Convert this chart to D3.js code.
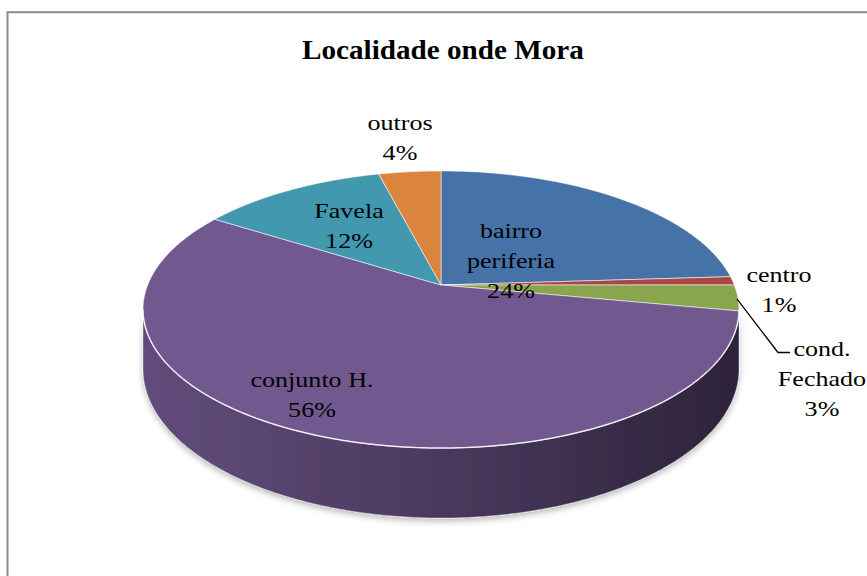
<!DOCTYPE html>
<html>
<head>
<meta charset="utf-8">
<script src="https://cdn.jsdelivr.net/npm/d3@7"></script>
<style>
  html, body { margin: 0; padding: 0; background: #fff; }
  svg { display: block; }
</style>
</head>
<body>
<div id="container"></div>
<script>
/* CONSTANTS AND GLOBALS */
const width = 867,
  height = 576;
const FONT = '"Liberation Serif"';

// DATA
const title = "Localidade onde Mora";
const categories = ["bairro periferia", "centro", "cond. Fechado", "conjunto H.", "Favela", "outros"];
const values = [24, 1, 3, 56, 12, 4];
const labelNames = [["bairro", "periferia"], ["centro"], ["cond.", "Fechado"], ["conjunto H."], ["Favela"], ["outros"]];
const colors = ["#4572A7", "#AA4643", "#89A54E", "#71588F", "#4198AF", "#DB843D"];

// label layout (first baseline of each label block)
const labelPos = [[511, 237.5], [779, 281.5], [822, 356], [312, 386.5], [349, 218], [400, 130]];

// 3d pie geometry (perspective view of a disc)
const cx = 441, cy = 285, R = 293.3, S = 134.2, k = 0.1769, D = 57.6;

function proj(a, r, down) {
  const u = r * Math.sin(a), v = r * Math.cos(a), w = 1 + k * v;
  return [cx + R * u / w, cy - S * v / w + (down ? D / w : 0)];
}
function arcPts(a0, a1, down) {
  const n = Math.max(2, Math.ceil(Math.abs(a1 - a0) / 0.01));
  return d3.range(n + 1).map(i => proj(a0 + (a1 - a0) * i / n, 1, down));
}
// widen text horizontally (the reference glyphs are stretched)
function stretch(sel, f) {
  sel.each(function () {
    const w = this.getComputedTextLength();
    d3.select(this).attr("textLength", w * f).attr("lengthAdjust", "spacingAndGlyphs");
  });
}

const svg = d3.select("#container")
  .append("svg")
  .attr("width", width)
  .attr("height", height);

const defs = svg.append("defs");
const shadow = defs.append("filter").attr("id", "shadow")
  .attr("x", "-10%").attr("y", "-10%").attr("width", "120%").attr("height", "130%");
shadow.append("feDropShadow")
  .attr("dx", 0).attr("dy", 3).attr("stdDeviation", 3)
  .attr("flood-color", "#000").attr("flood-opacity", 0.28);

// chart border
svg.append("rect")
  .attr("x", 7.5).attr("y", 12.2)
  .attr("width", 900).attr("height", 600)
  .attr("fill", "none")
  .attr("stroke", "#8c8c8c")
  .attr("stroke-width", 2);

// title
svg.append("text")
  .attr("x", 443).attr("y", 59)
  .attr("text-anchor", "middle")
  .style("font-family", FONT)
  .style("font-weight", "bold")
  .style("font-size", "26.5px")
  .attr("fill", "#000")
  .text(title)
  .call(stretch, 1.1);

const pie = d3.pie().sort(null).value(d => d);
const arcs = pie(values);

const line = d3.line();

// SIDE (front wall), only the visible part
const visA0 = Math.acos(-k), visA1 = 2 * Math.PI - Math.acos(-k);
const sideG = svg.append("g").attr("filter", "url(#shadow)");

arcs.forEach((d, i) => {
  const a0 = Math.max(d.startAngle, visA0), a1 = Math.min(d.endAngle, visA1);
  if (a1 <= a0) return;
  const base = d3.color(colors[i]);
  const gid = "side" + i;
  const g = defs.append("linearGradient").attr("id", gid)
    .attr("gradientUnits", "userSpaceOnUse")
    .attr("x1", cx - R * 1.02).attr("x2", cx + R * 1.02)
    .attr("y1", 0).attr("y2", 0);
  [[0, 0.4], [0.45, 1.1], [1, 2.6]].forEach(([o, dk]) => {
    g.append("stop").attr("offset", o).attr("stop-color", base.darker(dk));
  });
  const pts = arcPts(a0, a1, false).concat(arcPts(a1, a0, true));
  sideG.append("path")
    .attr("d", line(pts) + "Z")
    .attr("fill", `url(#${gid})`)
    .attr("stroke", "rgba(255,255,255,0.35)")
    .attr("stroke-width", 1);
});

// TOP FACE slices
svg.append("g")
  .selectAll("path.slice")
  .data(arcs)
  .enter()
  .append("path")
  .attr("class", "slice")
  .attr("d", d => line([[cx, cy]].concat(arcPts(d.startAngle, d.endAngle, false))) + "Z")
  .attr("fill", (d, i) => colors[i])
  .attr("stroke", "rgba(255,255,255,0.55)")
  .attr("stroke-width", 1)
  .attr("stroke-linejoin", "round");

// highlight rim along the front edge
svg.append("path")
  .attr("d", line(arcPts(visA0, visA1, false)))
  .attr("fill", "none")
  .attr("stroke", "rgba(255,255,255,0.75)")
  .attr("stroke-width", 1.5);

// leader line for cond. Fechado
const ci = categories.indexOf("cond. Fechado");
const lp = proj((arcs[ci].startAngle + arcs[ci].endAngle) / 2, 1, false);
svg.append("path")
  .attr("d", line([[lp[0] - 1, lp[1] + 1], [778, 352.5], [790, 352.5]]))
  .attr("fill", "none")
  .attr("stroke", "#000")
  .attr("stroke-width", 1.3);

// LABELS
const labels = svg.append("g")
  .selectAll("g.label")
  .data(arcs)
  .enter()
  .append("g")
  .attr("class", "label");

labels.each(function (d, i) {
  const lines = labelNames[i].concat([d.data + "%"]);
  d3.select(this).selectAll("text")
    .data(lines)
    .enter()
    .append("text")
    .attr("x", labelPos[i][0])
    .attr("y", (t, j) => labelPos[i][1] + j * 30)
    .attr("text-anchor", "middle")
    .style("font-family", FONT)
    .style("font-size", "21px")
    .attr("fill", "#000")
    .text(t => t)
    .call(stretch, 1.24);
});
</script>
</body>
</html>
